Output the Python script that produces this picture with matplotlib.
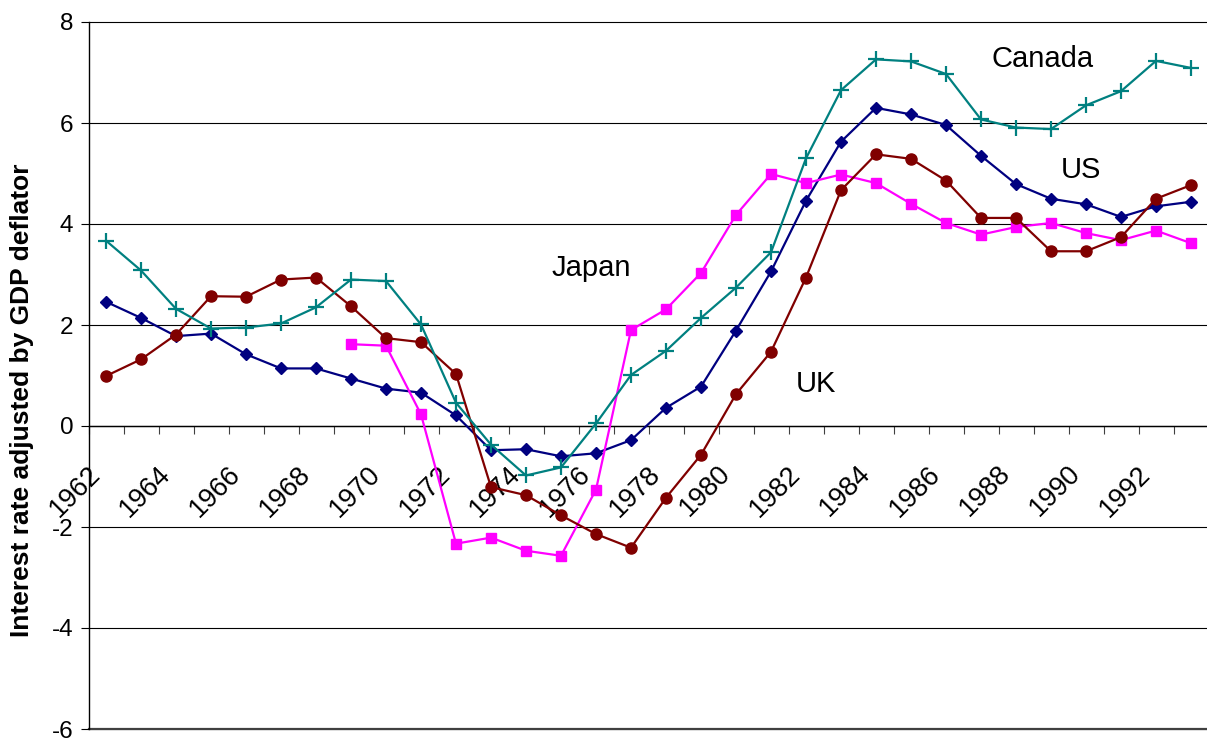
import numpy as np
import matplotlib
matplotlib.use('Agg')
import matplotlib.pyplot as plt
from matplotlib.ticker import FixedLocator

plt.rcParams['font.family'] = ['Liberation Sans', 'DejaVu Sans']
plt.rcParams['axes.unicode_minus'] = False

# data
years = [1962, 1963, 1964, 1965, 1966, 1967, 1968, 1969, 1970, 1971,
         1972, 1973, 1974, 1975, 1976, 1977, 1978, 1979, 1980, 1981,
         1982, 1983, 1984, 1985, 1986, 1987, 1988, 1989, 1990, 1991,
         1992, 1993]
us = [2.46, 2.14, 1.78, 1.83, 1.42, 1.14, 1.14, 0.94, 0.74, 0.66,
      0.21, -0.48, -0.46, -0.60, -0.54, -0.28, 0.36, 0.78, 1.89, 3.06,
      4.46, 5.63, 6.30, 6.17, 5.96, 5.35, 4.79, 4.50, 4.39, 4.14,
      4.35, 4.44]
canada = [3.67, 3.08, 2.32, 1.93, 1.95, 2.03, 2.35, 2.90, 2.87, 2.01,
          0.46, -0.37, -0.98, -0.82, 0.05, 1.01, 1.49, 2.14, 2.74, 3.44,
          5.30, 6.65, 7.26, 7.22, 6.97, 6.07, 5.91, 5.88, 6.35, 6.63,
          7.23, 7.09]
uk = [0.99, 1.32, 1.81, 2.57, 2.56, 2.90, 2.94, 2.37, 1.74, 1.66,
      1.03, -1.21, -1.37, -1.77, -2.14, -2.41, -1.42, -0.57, 0.63, 1.47,
      2.94, 4.67, 5.38, 5.29, 4.86, 4.12, 4.12, 3.46, 3.46, 3.74,
      4.50, 4.77]
# japan series starts in 1969
japan_start = 1969
japan = [1.62, 1.59, 0.23, -2.33, -2.21, -2.47, -2.57, -1.26, 1.90, 2.31,
         3.03, 4.18, 4.99, 4.81, 4.98, 4.81, 4.40, 4.02, 3.79, 3.94,
         4.02, 3.82, 3.68, 3.87, 3.62]

W, H = 1207, 742
fig = plt.figure(figsize=(W / 100, H / 100), dpi=100)
# plot area in pixels: x 88.5..1208.5, y 22..729
ax = fig.add_axes([88.5 / W, 1 - 729 / H, 1120 / W, 707 / H])

x = np.arange(len(years))
xj = np.arange(years.index(japan_start), len(years))

ax.plot(x, us, color='#000080', lw=1.6, marker='D', ms=6.5, zorder=3)
ax.plot(xj, japan, color='#FF00FF', lw=1.6, marker='s', ms=7.5, zorder=3)
ax.plot(x, uk, color='#800000', lw=1.6, marker='o', ms=8, zorder=3)
ax.plot(x, canada, color='#008080', lw=1.6, marker='+', ms=11, mew=1.6, zorder=3)

ax.set_xlim(-0.5, len(years) - 0.5)
ax.set_ylim(-6, 8)

# horizontal grid
for yv in range(-6, 9, 2):
    ax.axhline(yv, color='black', lw=0.8, zorder=1, clip_on=False)
ax.axhline(-6, color='#404040', lw=1.6, zorder=1, clip_on=False)

ax.spines['top'].set_visible(False)
ax.spines['right'].set_visible(False)
ax.spines['left'].set_linewidth(1.0)
ax.spines['bottom'].set_position(('data', 0))
ax.spines['bottom'].set_linewidth(1.0)

ax.set_yticks(range(-6, 9, 2))
ax.tick_params(axis='y', direction='out', length=6, width=0.8,
               labelsize=17.5, pad=5)

# category labels every two years, rotated, boundary ticks
ax.set_xticks(x[::2])
ax.set_xticklabels([str(y) for y in years[::2]], rotation=45,
                   ha='right', va='top', rotation_mode='default')
ax.xaxis.set_minor_locator(FixedLocator(np.arange(-0.5, len(years), 1.0)))
ax.tick_params(axis='x', which='major', length=0, labelsize=19.5, pad=25)
ax.tick_params(axis='x', which='minor', direction='out', length=6,
               width=0.8, color='#404040')

# series names
ax.text(26.77, 7.10, 'Canada', fontsize=21, ha='center', va='baseline')
ax.text(27.85, 4.91, 'US', fontsize=21, ha='center', va='baseline')
ax.text(13.87, 2.98, 'Japan', fontsize=21, ha='center', va='baseline')
ax.text(20.29, 0.67, 'UK', fontsize=21, ha='center', va='baseline')

fig.text(22 / W, 1 - 400 / H, 'Interest rate adjusted by GDP deflator',
         rotation=90, ha='center', va='center', fontsize=19,
         fontweight='bold')

fig.savefig('out.png', dpi=100)
